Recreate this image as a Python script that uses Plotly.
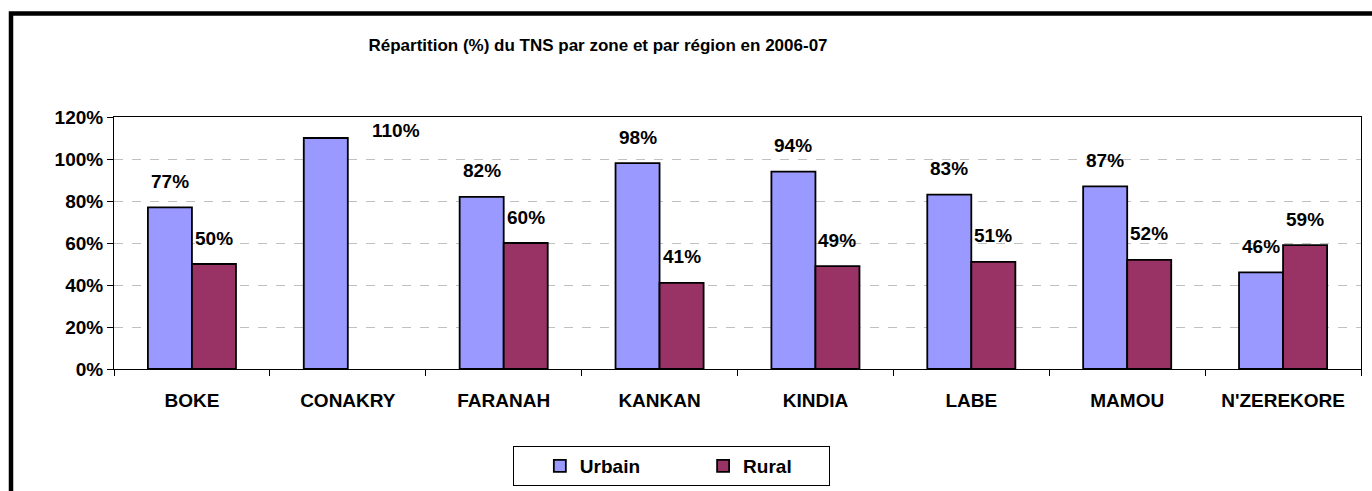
import plotly.graph_objects as go

# ---- data ----
regions = ["BOKE", "CONAKRY", "FARANAH", "KANKAN", "KINDIA", "LABE", "MAMOU", "N'ZEREKORE"]
urbain = [77, 110, 82, 98, 94, 83, 87, 46]
rural = [50, None, 60, 41, 49, 51, 52, 59]
y_ticks = [0, 20, 40, 60, 80, 100, 120]
y_tick_labels = [f"{v}%" for v in y_ticks]
title_text = "Répartition (%) du TNS par zone et par région en 2006-07"

# ---- layout geometry (pixels) ----
W, H = 1372, 491
L, R, T, B = 114, 11, 117, 122
pw, ph = W - L - R, H - T - B

FONT = "Liberation Sans, Arial, sans-serif"
URB_COLOR = "#9999FF"
RUR_COLOR = "#993366"
NB = "\u00a0"

fig = go.Figure()
fig.add_trace(go.Bar(name="<b>Urbain</b>" + NB * 11, x=regions, y=urbain,
                     marker=dict(color=URB_COLOR, line=dict(color="black", width=1.8))))
fig.add_trace(go.Bar(name="<b>Rural</b>" + NB * 6, x=regions, y=rural,
                     marker=dict(color=RUR_COLOR, line=dict(color="black", width=1.8))))

# data labels
cat_w = pw / len(regions)
bar_gap = 0.435
bar_w = cat_w * (1 - bar_gap) / 2
for i, reg in enumerate(regions):
    for val, sign in ((urbain[i], -1), (rural[i], 1)):
        if val is None:
            continue
        xs, ys = sign * bar_w / 2, 26
        if reg == "CONAKRY":
            xs, ys = 48, 8
        fig.add_annotation(x=reg, y=val, text=f"<b>{val}%</b>", showarrow=False,
                           xshift=xs, yshift=ys, xanchor="center", yanchor="middle",
                           font=dict(family=FONT, size=19, color="black"))

# outer chart frame
fig.add_shape(type="rect", xref="paper", yref="paper",
              x0=(11 - L) / pw, x1=1.2, y0=-1.0, y1=(T + ph - 13.5) / ph,
              line=dict(color="black", width=4.5), fillcolor="rgba(0,0,0,0)")

fig.update_layout(
    width=W, height=H,
    margin=dict(l=L, r=R, t=T, b=B, pad=0, autoexpand=False),
    paper_bgcolor="white", plot_bgcolor="white",
    barmode="group", bargap=bar_gap, bargroupgap=0,
    font=dict(family=FONT, color="black"),
    title=dict(text=f"<b>{title_text}</b>", x=(598 - L) / pw, xref="paper", xanchor="center",
               y=1 - 45 / H, yanchor="middle",
               font=dict(family=FONT, size=17, color="black")),
    showlegend=True,
    legend=dict(orientation="h", xref="container", x=513 / W, xanchor="left",
                yref="container", y=1 - 446 / H, yanchor="top",
                bordercolor="black", borderwidth=1, bgcolor="white",
                title=dict(text=NB * 3, font=dict(family=FONT, size=19)),
                font=dict(family=FONT, size=19, color="black")),
    xaxis=dict(showline=True, linecolor="black", linewidth=1, mirror=True,
               ticks="outside", tickson="boundaries", ticklen=6, tickcolor="black",
               tickvals=regions, ticktext=[f"<b>{r}</b>" for r in regions],
               tickfont=dict(family=FONT, size=19, color="black"),
               ticklabelstandoff=14, automargin=False),
    yaxis=dict(range=[0, 120], tickvals=y_ticks, ticktext=[f"<b>{t}</b>" for t in y_tick_labels],
               showline=True, linecolor="black", linewidth=1, mirror=True,
               ticks="outside", ticklen=6, tickcolor="black",
               showgrid=True, gridcolor="#c0c0c0", griddash="dash", gridwidth=1,
               zeroline=False, automargin=False,
               tickfont=dict(family=FONT, size=19, color="black")),
)

fig.write_html("out.html", config={"displayModeBar": False},
               post_script="document.body.style.margin='0';document.body.style.overflow='hidden';")
